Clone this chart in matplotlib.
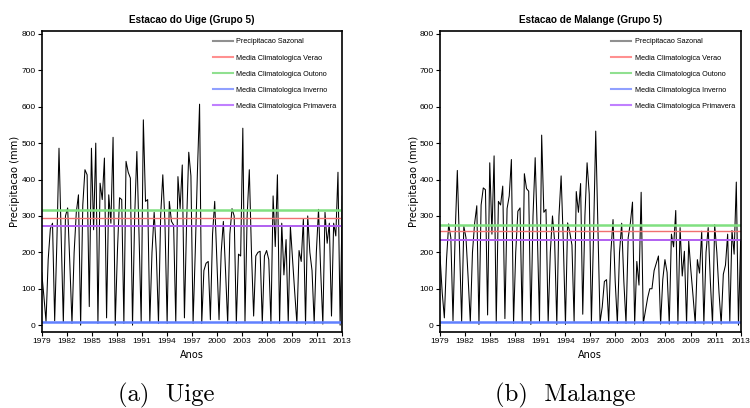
import matplotlib.pyplot as plt
import numpy as np
from matplotlib.lines import Line2D

tick_labels = ['1979', '1982', '1985', '1988', '1991', '1994', '1997',
               '2000', '2003', '2006', '2009', '2011', '2013']
seasons = ['Verao', 'Outono', 'Inverno', 'Primavera']

# seasonal totals, 1979-2013, 4 seasons per year
uige_precip = [
    145, 80, 10, 180, 265, 280, 12, 225, 486, 250, 8, 300, 322, 170, 5, 200,
    310, 358, 0, 330, 427, 413, 51, 486, 262, 500, 5, 390, 345, 459, 20, 358,
    280, 516, 0, 200, 350, 345, 5, 450, 420, 404, 0, 300, 477, 250, 8, 564,
    340, 345, 8, 200, 310, 200, 5, 300, 413, 280, 5, 340, 285, 275, 8, 408,
    320, 440, 20, 280, 475, 410, 5, 200, 420, 607, 5, 150, 170, 175, 15, 250,
    340, 180, 15, 200, 285, 150, 5, 250, 320, 300, 5, 195, 190, 541, 10, 300,
    427, 200, 25, 190, 200, 203, 5, 190, 205, 180, 5, 355, 216, 413, 5, 280,
    138, 235, 8, 271, 180, 90, 5, 205, 175, 292, 3, 300, 200, 150, 5, 200,
    318, 150, 3, 310, 225, 280, 25, 280, 245, 420, 0, 355,
]
malange_precip = [
    190, 90, 20, 180, 278, 240, 12, 250, 425, 220, 10, 272, 240, 130, 8, 200,
    280, 328, 2, 330, 377, 372, 28, 446, 250, 465, 6, 340, 330, 382, 18, 320,
    355, 455, 5, 200, 313, 322, 6, 416, 375, 368, 2, 300, 460, 250, 10, 522,
    310, 318, 8, 200, 300, 230, 2, 300, 410, 230, 2, 281, 255, 220, 10, 367,
    310, 389, 30, 300, 446, 360, 5, 250, 533, 270, 8, 50, 120, 125, 5, 200,
    290, 120, 5, 200, 280, 120, 5, 240, 280, 338, 3, 175, 110, 365, 5, 40,
    75, 100, 100, 150, 170, 190, 3, 125, 180, 145, 3, 250, 215, 315, 3, 268,
    135, 203, 5, 231, 150, 80, 5, 180, 143, 258, 3, 200, 268, 120, 3, 276,
    200, 90, 3, 140, 165, 250, 10, 260, 195, 393, 0, 230,
]
uige_means = [294, 317, 9, 272]
malange_means = [259, 275, 9, 235]

mean_colors = ['#f07070', '#80e080', '#6080ff', '#b060f0']
mean_widths = [1.0, 1.8, 1.8, 1.4]
legend_colors = ['#909090', '#ff9090', '#90e090', '#90a0ff', '#c080ff']

plt.rcParams['font.family'] = ['Liberation Sans', 'DejaVu Sans']

fig = plt.figure(figsize=(7.5, 4.08), dpi=100)


def draw_panel(left, precip, means, title, caption):
    ax = fig.add_axes([left, 0.187, 0.4008, 0.737])
    x = np.arange(len(precip))
    ax.plot(x, precip, color='black', lw=0.75)
    for m, c, w in zip(means, mean_colors, mean_widths):
        ax.axhline(m, color=c, lw=w)
    ax.set_xlim(0, len(precip) - 1)
    ax.set_ylim(-18, 808)
    ax.set_yticks(range(0, 801, 100))
    ax.set_xticks(np.linspace(0, len(precip) - 1, len(tick_labels)))
    ax.set_xticklabels(tick_labels)
    ax.tick_params(labelsize=6, length=3, width=0.8, pad=1.5)
    for s in ax.spines.values():
        s.set_linewidth(1.2)
    ax.text(0.5, 1.037, title, transform=ax.transAxes, ha='center', va='center',
            fontsize=7.2, fontweight='bold')
    ax.set_ylabel('Precipitacao (mm)', family='DejaVu Sans', fontsize=7.2)
    ax.yaxis.set_label_coords(-0.071, 0.5)
    ax.set_xlabel('Anos', family='DejaVu Sans', fontsize=7)
    ax.xaxis.set_label_coords(0.5, -0.06)
    handles = [Line2D([], [], color=c, lw=1.5) for c in legend_colors]
    labels = ['Precipitacao Sazonal'] + ['Media Climatologica ' + s for s in seasons]
    ax.legend(handles, labels, loc='upper left', bbox_to_anchor=(0.56, 0.985),
              frameon=False, fontsize=5.2, handlelength=2.8, labelspacing=1.25,
              borderaxespad=0, handletextpad=0.45)
    # subcaption sits left of the axes centre, as in the source figure
    fig.text(left + 0.2004 - 0.034, 0.03, caption, family='cmr10', fontsize=17.8,
             ha='center', va='center')


draw_panel(0.0556, uige_precip, uige_means, 'Estacao do Uige (Grupo 5)', '(a)  Uige')
draw_panel(0.5867, malange_precip, malange_means, 'Estacao de Malange (Grupo 5)', '(b)  Malange')

fig.savefig('out.png', dpi=100)
